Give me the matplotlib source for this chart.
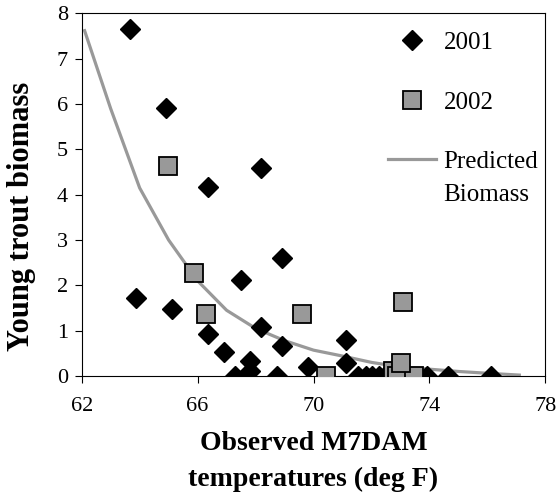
import matplotlib.pyplot as plt

plt.rcParams['font.family'] = ['Liberation Serif', 'DejaVu Serif']

# 2001 observations
t2001 = [63.65, 64.92, 66.36, 68.17, 68.92, 67.48, 63.87, 65.11, 66.35, 68.17,
         66.92, 67.80, 67.80, 67.30, 68.92, 68.75, 69.80, 71.11, 71.11,
         71.55, 71.80, 72.03, 72.26, 72.45, 73.90, 74.65, 76.13]
b2001 = [7.65, 5.92, 4.16, 4.60, 2.60, 2.12, 1.71, 1.48, 0.93, 1.07,
         0.52, 0.34, 0.10, 0.0, 0.67, 0.0, 0.20, 0.80, 0.28,
         0.0, 0.0, 0.0, 0.0, 0.0, 0.0, 0.0, 0.0]

# 2002 observations
t2002 = [64.97, 65.86, 66.30, 69.61, 70.43, 73.10, 72.75, 72.88, 73.47, 73.01]
b2002 = [4.64, 2.28, 1.36, 1.36, 0.0, 1.64, 0.10, 0.0, 0.0, 0.29]

# predicted curve
t_pred = [62.1, 63.0, 64.0, 65.0, 66.0, 67.0, 68.0, 69.0, 70.0, 71.0, 72.0,
          73.0, 74.0, 75.0, 76.0, 77.1]
b_pred = [7.62, 5.9, 4.15, 3.0, 2.1, 1.45, 1.05, 0.78, 0.57, 0.44, 0.3,
          0.2, 0.15, 0.1, 0.06, 0.02]

fig = plt.figure(figsize=(5.58, 4.98), dpi=100)
ax = fig.add_axes([0.1464, 0.245, 0.831, 0.728])

ax.plot(t_pred, b_pred, color='#999999', lw=2.3, label='Predicted\nBiomass', zorder=2)
ax.plot(t2001, b2001, 'D', color='black', ms=10.5, lw=0, label='2001', zorder=3)
ax.plot(t2002, b2002, 's', mfc='#999999', mec='black', mew=1.3, ms=13.5, lw=0,
        label='2002', zorder=4)

ax.set_xlim(62, 78)
ax.set_ylim(0, 8)
ax.set_xticks([62, 66, 70, 74, 78])
ax.set_yticks(range(0, 9))
ax.tick_params(direction='out', length=5, labelsize=16, width=0.8)
ax.tick_params(axis='x', pad=10)
ax.tick_params(axis='y', pad=5)
for sp in ax.spines.values():
    sp.set_linewidth(0.8)

ax.set_xlabel('Observed M7DAM\ntemperatures (deg F)', fontsize=20, fontweight='bold',
              linespacing=1.55, labelpad=11)
ax.set_ylabel('Young trout biomass', fontsize=22, fontweight='bold')
ax.yaxis.set_label_coords(-0.098, 0.44)

h, l = ax.get_legend_handles_labels()
order = [1, 2, 0]
leg = ax.legend([h[i] for i in order], [l[i] for i in order], loc='upper right',
                frameon=False, fontsize=18, labelspacing=1.5, handlelength=1.9,
                handletextpad=0.3, bbox_to_anchor=(1.006, 0.978), borderaxespad=0)
leg.get_texts()[2].set_linespacing(1.6)
# put the line key beside the first line of its label
ln = leg.legend_handles[2]
ln.set_ydata([y + 14 for y in ln.get_ydata()])

fig.savefig('out.png', dpi=100)
